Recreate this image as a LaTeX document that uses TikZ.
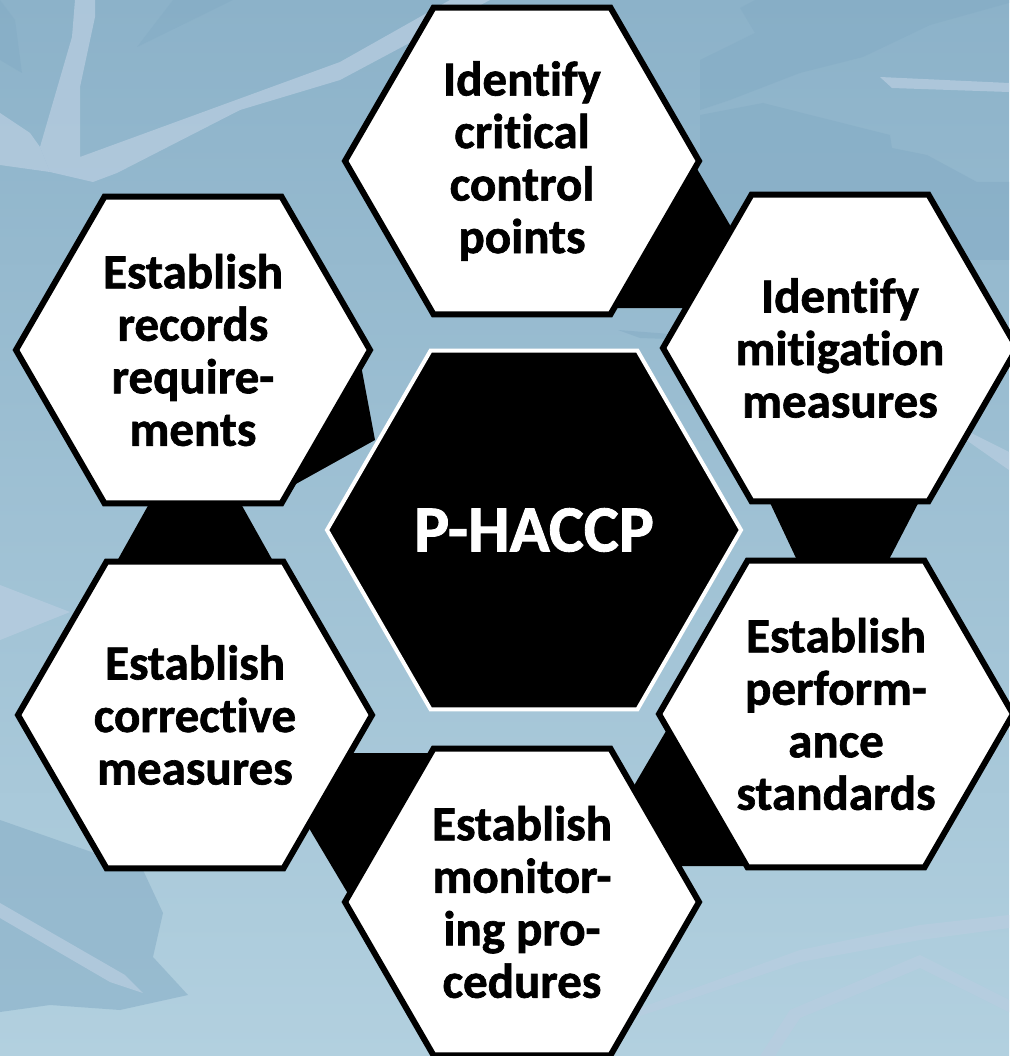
\documentclass[tikz,border=0pt]{standalone}
\usepackage{fontspec}
\setmainfont[Ligatures=NoCommon, BoldFeatures={FakeBold=1.3}]{Carlito}
\usetikzlibrary{shapes.geometric}
\definecolor{bgtop}{HTML}{8CB2C9}
\definecolor{bgbot}{HTML}{B2D0DF}
\definecolor{bglight}{HTML}{B8CDE0}
\definecolor{bgdark}{HTML}{84ACC5}
\begin{document}
\begin{tikzpicture}[x=1pt,y=-1pt,
  hexo/.style={regular polygon, regular polygon sides=6, minimum size=354pt,
    inner sep=0pt, draw=black, line width=6pt, fill=white, align=center,
    font=\fontsize{49}{52.5}\selectfont\bfseries, text=black},
  hexc/.style={regular polygon, regular polygon sides=6, minimum size=414pt,
    inner sep=0pt, draw=white, line width=4pt, fill=black, align=center,
    font=\fontsize{66}{70}\selectfont\bfseries, text=white},
  link/.style={fill=black},
  streak/.style={fill=bglight, fill opacity=0.75},
  shade/.style={fill=bgdark, fill opacity=0.55}
]
% background
\fill[top color=bgtop, bottom color=bgbot] (0,0) rectangle (1009,1056);
\useasboundingbox (0,0) rectangle (1009,1056);
% darker patches
\fill[shade] (0,0) -- (15,20) -- (22,73) -- (0,60) -- cycle;
\fill[shade] (137,47) -- (173,0) -- (233,0) -- cycle;
\fill[shade] (755,0) -- (1009,0) -- (1009,3) -- (930,25) -- (863,57) -- (800,73) -- (730,100) -- (700,110) -- (700,60) -- (755,33) -- (740,8) -- cycle;
\fill[shade] (763,103) -- (890,135) -- (892,148) -- (927,155) -- (977,182) -- (1009,182) -- (1009,260) -- (700,260) -- (700,115) -- cycle;
\fill[shade] (0,820) -- (143,870) -- (163,913) -- (153,957) -- (188,995) -- (120,1010) -- (50,1005) -- (0,1012) -- cycle;
\fill[shade] (618,330) -- (670,334) -- (700,340) -- (640,338) -- cycle;
% light streaks
\fill[streak] (75,0) -- (95,0) -- (95,17) -- (80,87) -- (80,157) -- (340,62) -- (450,0) -- (490,0) -- (340,80) -- (240,110) -- (117,173) -- (93,182) -- (50,172) -- (40,147) -- (72,37) -- cycle;
\fill[streak] (0,113) -- (30,133) -- (40,147) -- (50,172) -- (0,165) -- cycle;
\fill[streak] (880,77) -- (1009,83) -- (1009,92) -- (892,88) -- cycle;
\fill[streak] (945,420) -- (1009,452) -- (1009,470) -- (952,430) -- cycle;
\fill[streak] (0,585) -- (70,612) -- (0,640) -- cycle;
\fill[streak] (0,903) -- (125,975) -- (143,993) -- (110,982) -- (0,918) -- cycle;
\fill[streak] (640,1008) -- (800,950) -- (920,925) -- (1009,915) -- (1009,928) -- (920,940) -- (800,962) -- (640,1016) -- cycle;
\fill[streak] (760,1056) -- (790,1010) -- (920,955) -- (1009,1000) -- (1009,1012) -- (920,968) -- (800,1018) -- (775,1056) -- cycle;
% black links between neighbouring hexagons
\fill[link] (686,150) -- (734,232) -- (692,308) -- (600,308) -- cycle;
\fill[link] (764,490) -- (925,490) -- (881,575) -- (804,575) -- cycle;
\fill[link] (676,714) -- (615,818) -- (615,866) -- (760,866) -- cycle;
\fill[link] (340,753) -- (440,753) -- (350,897) -- (300,813) -- cycle;
\fill[link] (154,495) -- (236,495) -- (278,570) -- (112,570) -- cycle;
\fill[link] (360,360) -- (375,440) -- (285,490) -- cycle;
% hexagons
\node[hexc] (c) at (534,530) {P-HACCP};
\node[hexo] (t)  at (522,161) {Identify\\critical\\control\\points};
\node[hexo] (ur) at (840,348) {Identify\\mitigation\\measures};
\node[hexo] (lr) at (836,714) {Establish\\perform-\\ance\\standards};
\node[hexo] (b)  at (522,902) {Establish\\monitor-\\ing pro-\\cedures};
\node[hexo] (ll) at (195,715) {Establish\\corrective\\measures};
\node[hexo] (ul) at (193,350) {Establish\\records\\require-\\ments};
\end{tikzpicture}
\end{document}
